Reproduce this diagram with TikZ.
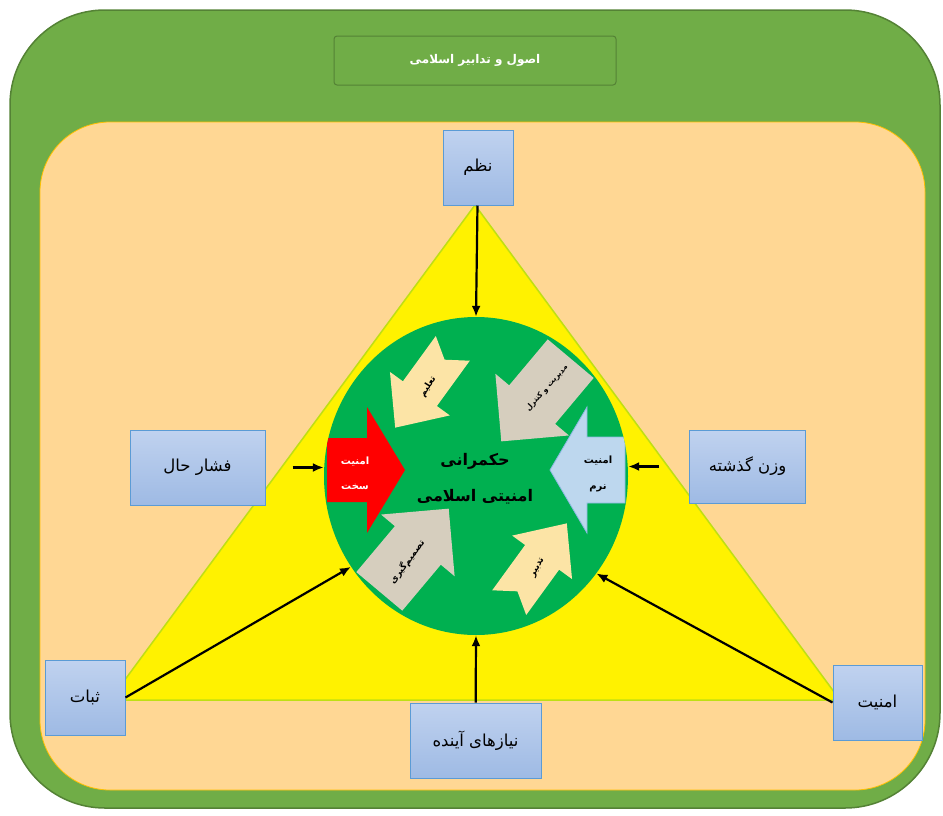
\documentclass[tikz,border=0pt]{standalone}
\usepackage{fontspec}
\newfontfamily\arabicfont[Script=Arabic]{DejaVu Sans}
\TeXXeTstate=1
\usetikzlibrary{shapes.geometric,arrows.meta}

\definecolor{framegreen}{RGB}{112,173,71}
\definecolor{framedark}{RGB}{84,130,53}
\definecolor{sand}{RGB}{255,215,148}
\definecolor{sandline}{RGB}{255,192,0}
\definecolor{coregreen}{RGB}{0,176,80}
\definecolor{boxtop}{RGB}{192,210,239}
\definecolor{boxbot}{RGB}{158,186,228}
\definecolor{boxline}{RGB}{91,155,213}
\definecolor{softblue}{RGB}{189,215,238}
\definecolor{beige}{RGB}{252,228,166}
\definecolor{stone}{RGB}{214,206,190}

\tikzstyle{factor} = [
  draw=boxline,
  top color=boxtop,
  bottom color=boxbot,
  line width=1pt,
  inner sep=0pt,
  font=\arabicfont\fontsize{16.5}{19}\selectfont,
]
\tikzstyle{link} = [-{Latex[length=11pt,width=9pt]}, line width=2.2pt]
\tikzstyle{tag} = [font=\arabicfont\bfseries\fontsize{9}{11}\selectfont]

% centre, angle, style, length, shaft, head, head length, notch
\newcommand{\blockarrow}[8]{%
  \begin{scope}[shift={#1}, rotate=#2]
    \path[#3] ({-#4/2},{-#5}) -- ({#4/2-#7},{-#5}) -- ({#4/2-#7},{-#6}) -- ({#4/2},0)
      -- ({#4/2-#7},{#6}) -- ({#4/2-#7},{#5}) -- ({-#4/2},{#5}) -- ({-#4/2+#8},0) -- cycle;
  \end{scope}}

\begin{document}
\begin{tikzpicture}[x=1pt, y=-1pt]
  \useasboundingbox (0,0) rectangle (943,815);

  % Frame
  \draw[framedark, fill=framegreen, line width=1.5pt, rounded corners=95pt] (10,10) rectangle (940,808);
  \draw[sandline, fill=sand, line width=0.8pt, rounded corners=70pt] (40,122) rectangle (925,790);
  \node[draw=framedark, fill=framegreen, line width=1pt, rounded corners=3pt,
    minimum width=282pt, minimum height=49pt, text=white,
    font=\arabicfont\bfseries\fontsize{12}{14}\selectfont] (title) at (475,60.5)
    {\beginR اصول و تدابیر اسلامی\endR};

  % Triangle
  \draw[yellow!75!green, fill=yellow, line width=1.5pt] (475,205) -- (840,700) -- (110,700) -- cycle;

  % Core
  \node[ellipse, fill=coregreen, minimum width=304pt, minimum height=318pt, inner sep=0pt] (core) at (476,476) {};

  % Arrows inside the core
  \begin{scope}
    \clip (476,476) ellipse (152 and 159);
    \blockarrow{(366,470)}{0}{fill=red}{78}{32}{63}{38}{0}
    \blockarrow{(587.5,470)}{180}{fill=softblue, draw=boxline!70, line width=0.8pt}{75}{33}{63}{37}{0}
    \blockarrow{(424,388)}{234}{fill=beige}{98}{21}{37}{42}{14}
    \blockarrow{(536,400)}{230}{fill=stone}{108}{30}{48}{48}{0}
    \blockarrow{(414,550)}{50}{fill=stone}{108}{30}{48}{48}{0}
    \blockarrow{(538,563)}{54}{fill=beige}{98}{21}{37}{42}{14}
  \end{scope}

  % Labels
  \node[align=center, font=\arabicfont\bfseries\fontsize{16}{36}\selectfont] (label) at (475,479)
    {\beginR حکمرانی\endR\\\beginR امنیتی اسلامی\endR};
  \node[tag, text=white, align=center, font=\arabicfont\bfseries\fontsize{10}{25}\selectfont] (hard) at (355,473)
    {\beginR امنیت\endR\\\beginR سخت\endR};
  \node[tag, align=center, font=\arabicfont\bfseries\fontsize{10}{26}\selectfont] (soft) at (598,474)
    {\beginR امنیت\endR\\\beginR نرم\endR};
  \node[tag, rotate=58] (teach) at (428,387) {\beginR تعلیم\endR};
  \node[tag, rotate=48, font=\arabicfont\bfseries\fontsize{7.5}{9}\selectfont] (manage) at (547,388) {\beginR مدیریت و کنترل\endR};
  \node[tag, rotate=53] (decide) at (407,562) {\beginR تصمیم‌گیری\endR};
  \node[tag, rotate=62] (plan) at (538,568) {\beginR تدبیر\endR};

  % Factors
  \node[factor, minimum width=70pt, minimum height=75pt] (order) at (478,167.5) {\beginR نظم\endR};
  \node[factor, minimum width=135pt, minimum height=75pt] (pressure) at (197.5,467.5) {\beginR فشار حال\endR};
  \node[factor, minimum width=116pt, minimum height=73pt] (past) at (747.5,466.5) {\beginR وزن گذشته\endR};
  \node[factor, minimum width=80pt, minimum height=75pt] (stability) at (85,697.5) {\beginR ثبات\endR};
  \node[factor, minimum width=89pt, minimum height=75pt] (security) at (877.5,702.5) {\beginR امنیت\endR};
  \node[factor, minimum width=131pt, minimum height=75pt] (needs) at (475.5,740.5) {\beginR نیازهای آینده\endR};

  % Links
  \draw[link] (order) -- (core.north);
  \draw[link, shorten <=27pt] (pressure.east) -- (pressure.east -| core.west);
  \draw[link, shorten <=30pt] (past.west) -- (past.west -| core.east);
  \draw[link] (stability.east) -- (core.216);
  \draw[link] (security.west) -- (core.321);
  \draw[link] (needs) -- (core.south);
\end{tikzpicture}
\end{document}
